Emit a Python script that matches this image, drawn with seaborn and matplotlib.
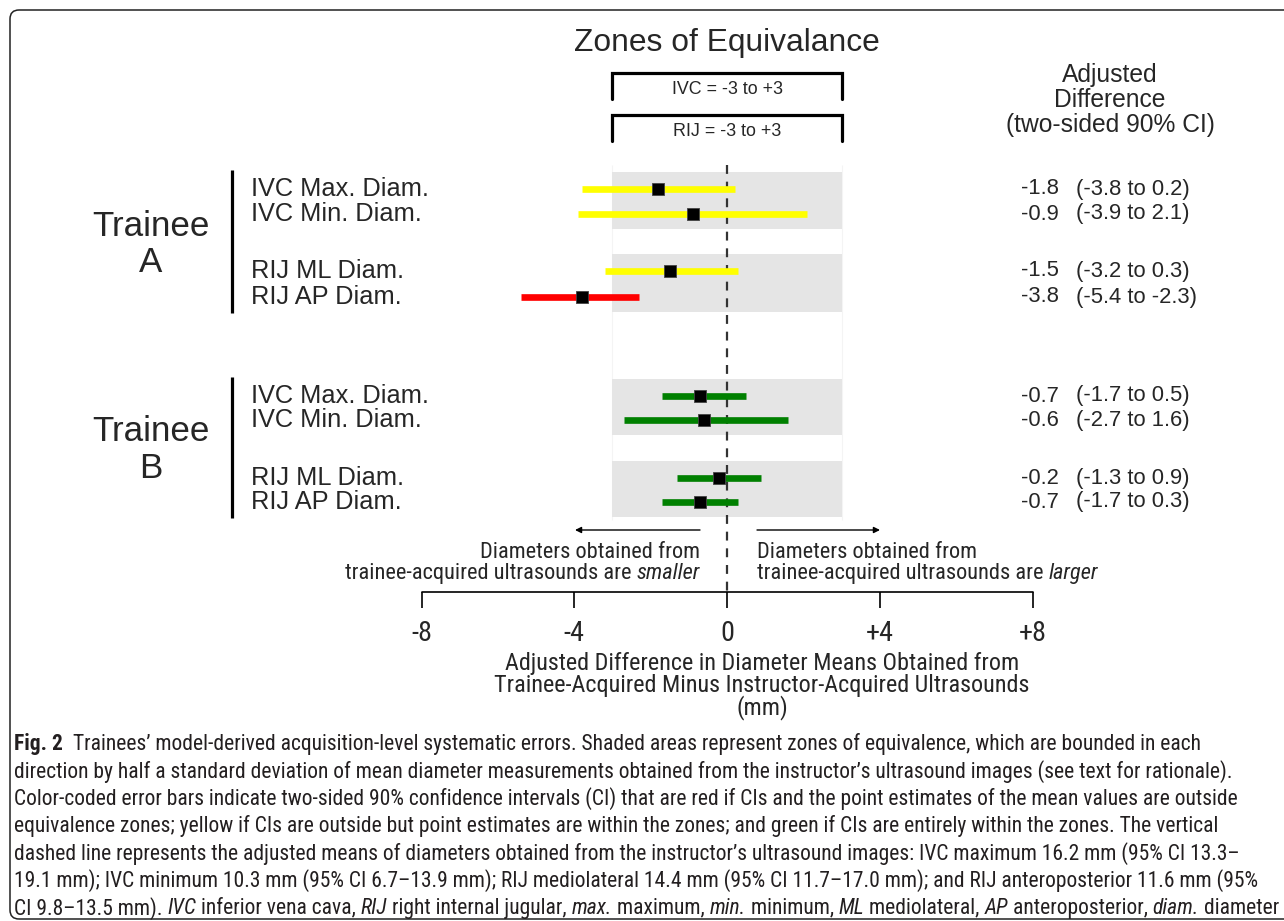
import matplotlib
matplotlib.use('Agg')
import matplotlib.pyplot as plt
from matplotlib.patches import Rectangle, FancyBboxPatch
from matplotlib.transforms import IdentityTransform
import seaborn as sns
import pandas as pd

# ---------------- data ----------------
trainees = ['A', 'A', 'A', 'A', 'B', 'B', 'B', 'B']
measures = ['IVC Max. Diam.', 'IVC Min. Diam.', 'RIJ ML Diam.', 'RIJ AP Diam.',
            'IVC Max. Diam.', 'IVC Min. Diam.', 'RIJ ML Diam.', 'RIJ AP Diam.']
estimates = [-1.8, -0.9, -1.5, -3.8, -0.7, -0.6, -0.2, -0.7]
ci_low = [-3.8, -3.9, -3.2, -5.4, -1.7, -2.7, -1.3, -1.7]
ci_high = [0.2, 2.1, 0.3, -2.3, 0.5, 1.6, 0.9, 0.3]
zone_vessels = ['IVC', 'RIJ']
zone_low = [-3, -3]
zone_high = [3, 3]
x_ticks = [-8, -4, 0, 4, 8]
x_tick_labels = ['-8', '-4', '0', '+4', '+8']

caption_lines = [
    [("Fig. 2", "bold"), ("  Trainees\u2019 model-derived acquisition-level systematic errors. Shaded areas represent zones of equivalence, which are bounded in each", "normal")],
    [("direction by half a standard deviation of mean diameter measurements obtained from the instructor\u2019s ultrasound images (see text for rationale).", "normal")],
    [("Color-coded error bars indicate two-sided 90% confidence intervals (CI) that are red if CIs and the point estimates of the mean values are outside", "normal")],
    [("equivalence zones; yellow if CIs are outside but point estimates are within the zones; and green if CIs are entirely within the zones. The vertical", "normal")],
    [("dashed line represents the adjusted means of diameters obtained from the instructor\u2019s ultrasound images: IVC maximum 16.2 mm (95% CI 13.3\u2013", "normal")],
    [("19.1 mm); IVC minimum 10.3 mm (95% CI 6.7\u201313.9 mm); RIJ mediolateral 14.4 mm (95% CI 11.7\u201317.0 mm); and RIJ anteroposterior 11.6 mm (95%", "normal")],
    [("CI 9.8\u201313.5 mm). ", "normal"), ("IVC", "italic"), (" inferior vena cava, ", "normal"), ("RIJ", "italic"),
     (" right internal jugular, ", "normal"), ("max.", "italic"), (" maximum, ", "normal"), ("min.", "italic"),
     (" minimum, ", "normal"), ("ML", "italic"), (" mediolateral, ", "normal"), ("AP", "italic"),
     (" anteroposterior, ", "normal"), ("diam.", "italic"), (" diameter", "normal")],
]

# ---------------- layout ----------------
W, H = 1284, 921
ROW_Y = [189, 214, 271, 297, 396, 420, 478, 502]
X0 = 727
PX_PER_UNIT = (1033 - 422) / 16.0
CAPTION_LAST_END = 1277

sns.set_theme(style='white')
COND = ['Roboto Condensed', 'Roboto', 'DejaVu Sans']
ARIAL = ['Liberation Sans', 'DejaVu Sans']
CAPF = ['Roboto Condensed', 'Roboto', 'DejaVu Sans']
plt.rcParams['font.family'] = ARIAL

fig = plt.figure(figsize=(W / 100, H / 100), dpi=100)
ax = fig.add_axes([0, 0, 1, 1])
renderer = fig.canvas.get_renderer()


def xd(px):
    return (px - X0) / PX_PER_UNIT


def T(px, py, s, **kw):
    kw.setdefault('va', 'center')
    return fig.text(px / W, 1 - py / H, s, **kw)


def seg_width(s, **kw):
    t1 = fig.text(0, 0, '|' + s + '|', **kw)
    t2 = fig.text(0, 0, '||', **kw)
    w = t1.get_window_extent(renderer).width - t2.get_window_extent(renderer).width
    t1.remove()
    t2.remove()
    return w


def fit(s, target, **kw):
    return 10 * target / seg_width(s, fontsize=10, **kw)


def spacing_for(step_px, **kw):
    t1 = fig.text(0, 0, 'A', linespacing=1.0, **kw)
    t2 = fig.text(0, 0, 'A\nA', linespacing=1.0, **kw)
    step = t2.get_window_extent(renderer).height - t1.get_window_extent(renderer).height
    t1.remove()
    t2.remove()
    return step_px / step


def style_kw(base, st):
    kw = dict(base)
    if st == 'bold':
        kw['fontweight'] = 'bold'
    elif st == 'italic':
        kw['fontstyle'] = 'italic'
    return kw


def draw_segments(x, y, segs, base_kw, align='left'):
    widths = [seg_width(s, **style_kw(base_kw, st)) for s, st in segs]
    if align == 'right':
        x = x - sum(widths)
    for (s, st), w in zip(segs, widths):
        kw = style_kw(base_kw, st)
        lead = len(s) - len(s.lstrip(' '))
        off = seg_width(' ' * lead, **kw) if lead else 0
        T(x + off, y, s.lstrip(' '), ha='left', **kw)
        x += w


df = pd.DataFrame({'trainee': trainees, 'measure': measures, 'est': estimates,
                   'lo': ci_low, 'hi': ci_high})
df['vessel'] = df['measure'].str.split().str[0]
df['y'] = ROW_Y
zl = dict(zip(zone_vessels, zone_low))
zh = dict(zip(zone_vessels, zone_high))


def ci_color(r):
    a, b = zl[r.vessel], zh[r.vessel]
    if r.est < a or r.est > b:
        return '#FF0000'
    if r.lo < a or r.hi > b:
        return '#FFFF00'
    return '#008000'


df['color'] = df.apply(ci_color, axis=1)

# shaded equivalence zones
for (tr, ve), g in df.groupby(['trainee', 'vessel']):
    top = g['y'].min() - 17
    bot = g['y'].max() + 15
    ax.add_patch(Rectangle((zl[ve], top), zh[ve] - zl[ve], bot - top,
                           facecolor='#E5E5E5', edgecolor='none', zorder=1))
ax.vlines([zone_low[0], zone_high[0]], 165, 520, color='#F4F4F4', lw=0.8, zorder=0.5)

# dashed reference line
ax.plot([0, 0], [165, 592], color='#333333', lw=1.6, ls=(0, (4, 3.5)), zorder=2)

# CI bars
for _, r in df.iterrows():
    ax.plot([r.lo, r.hi], [r.y, r.y], color=r.color, lw=4.8, solid_capstyle='butt', zorder=3)
sns.scatterplot(data=df, x='est', y='y', marker='s', s=85, color='black',
                edgecolor='#444444', linewidth=0.6, ax=ax, zorder=4, legend=False)
ax.set_xlim(-X0 / PX_PER_UNIT, (W - X0) / PX_PER_UNIT)
ax.set_ylim(H, 0)
ax.axis('off')

# bottom axis
ax.plot([x_ticks[0], x_ticks[-1]], [592, 592], color='black', lw=1.2, zorder=2)
ax.vlines(x_ticks, 592, 608, color='black', lw=1.2, zorder=2)
tick_fs = fit('+4', 28, family=COND)
for xv, lab in zip(x_ticks, x_tick_labels):
    ax.text(xv, 633, lab, ha='center', va='center', fontsize=tick_fs, family=COND)

# axis title (one multi-line text)
title_fs = fit('Trainee-Acquired Minus Instructor-Acquired Ultrasounds', 533, family=COND)
title_ls = spacing_for(21.5, fontsize=title_fs, family=COND)
T(762, 686, 'Adjusted Difference in Diameter Means Obtained from\n'
            'Trainee-Acquired Minus Instructor-Acquired Ultrasounds\n(mm)',
  ha='center', multialignment='center', fontsize=title_fs, family=COND, linespacing=title_ls)

# arrows
arrow_kw = dict(arrowstyle='-|>', color='black', lw=1.0, mutation_scale=9, shrinkA=0, shrinkB=0)
ax.annotate('', xy=(xd(575), 530), xytext=(xd(700), 530), arrowprops=arrow_kw)
ax.annotate('', xy=(xd(880), 530), xytext=(xd(757), 530), arrowprops=arrow_kw)

arrow_fs = fit('trainee-acquired ultrasounds are smaller', 355, family=COND)
arrow_txt_kw = dict(fontsize=arrow_fs, family=COND)
T(700, 552, 'Diameters obtained from', ha='right', **arrow_txt_kw)
draw_segments(700, 573, [('trainee-acquired ultrasounds are ', 'normal'), ('smaller', 'italic')],
              arrow_txt_kw, align='right')
T(757, 552, 'Diameters obtained from', ha='left', **arrow_txt_kw)
draw_segments(757, 573, [('trainee-acquired ultrasounds are ', 'normal'), ('larger', 'italic')],
              arrow_txt_kw)

# title and zone brackets
T(727, 43, 'Zones of Equivalance', ha='center', fontsize=fit('Zones of Equivalance', 307, family=ARIAL), family=ARIAL)
br_fs = fit('IVC = -3 to +3', 111, family=ARIAL)
for ve, a, b, ytop, ytxt in zip(zone_vessels, zone_low, zone_high, [73, 115], [89, 131]):
    ax.plot([a, a, b, b], [ytop + 26, ytop, ytop, ytop + 26], color='black', lw=2.3,
            solid_joinstyle='miter', zorder=2)
    ax.text(0, ytxt, f'{ve} = {a} to +{b}', ha='center', va='center', fontsize=br_fs, family=ARIAL)

# right header
hdr_fs = fit('(two-sided 90% CI)', 210, family=ARIAL)
hdr_ls = spacing_for(25.5, fontsize=hdr_fs, family=ARIAL)
T(1110, 100, 'Adjusted\nDifference\n(two-sided 90% CI)', ha='center', multialignment='center',
  fontsize=hdr_fs, family=ARIAL, linespacing=hdr_ls)

# right values
val_fs = fit('(-3.8 to 0.2)', 114, family=ARIAL)
for _, r in df.iterrows():
    T(1021, r.y, f'{r.est:.1f}', ha='left', fontsize=val_fs, family=ARIAL)
    T(1076, r.y, f'({r.lo:.1f} to {r.hi:.1f})', ha='left', fontsize=val_fs, family=ARIAL)

# left labels (pairs as two-line texts)
lab_fs = fit('IVC Max. Diam.', 178, family=ARIAL)
for (tr, ve), g in df.groupby(['trainee', 'vessel']):
    ys = list(g['y'])
    ls = spacing_for(ys[1] - ys[0], fontsize=lab_fs, family=ARIAL)
    T(251, sum(ys) / 2, '\n'.join(g['measure']), ha='left', fontsize=lab_fs,
      family=ARIAL, linespacing=ls)

tr_fs = fit('Trainee', 118, family=ARIAL)
tr_ls = spacing_for(37, fontsize=tr_fs, family=ARIAL)
for tr, ymid, (b0, b1) in zip(['A', 'B'], [244.5, 450], [(170, 313), (377, 518)]):
    T(151, ymid, 'Trainee\n' + tr, ha='center', multialignment='center', fontsize=tr_fs,
      family=ARIAL, linespacing=tr_ls)
    ax.plot([xd(232), xd(232)], [b0, b1], color='black', lw=2.3, solid_capstyle='butt')

# caption
cap_base = dict(family=CAPF, color='#231F20')
last_w = sum(seg_width(s, **style_kw(dict(cap_base, fontsize=10), st)) for s, st in caption_lines[-1])
cap_size = 10 * (CAPTION_LAST_END - 14) / last_w
cap_kw = dict(cap_base, fontsize=cap_size)
for i, segs in enumerate(caption_lines):
    draw_segments(14, 744 + i * 27.4, segs, cap_kw)

# rounded frame
frame = FancyBboxPatch((10, 2), 1400, H - 12, boxstyle='round,pad=0,rounding_size=9',
                       transform=IdentityTransform(), facecolor='none', edgecolor='#222222', lw=1.1)
fig.add_artist(frame)

fig.savefig('out.png', dpi=100)
